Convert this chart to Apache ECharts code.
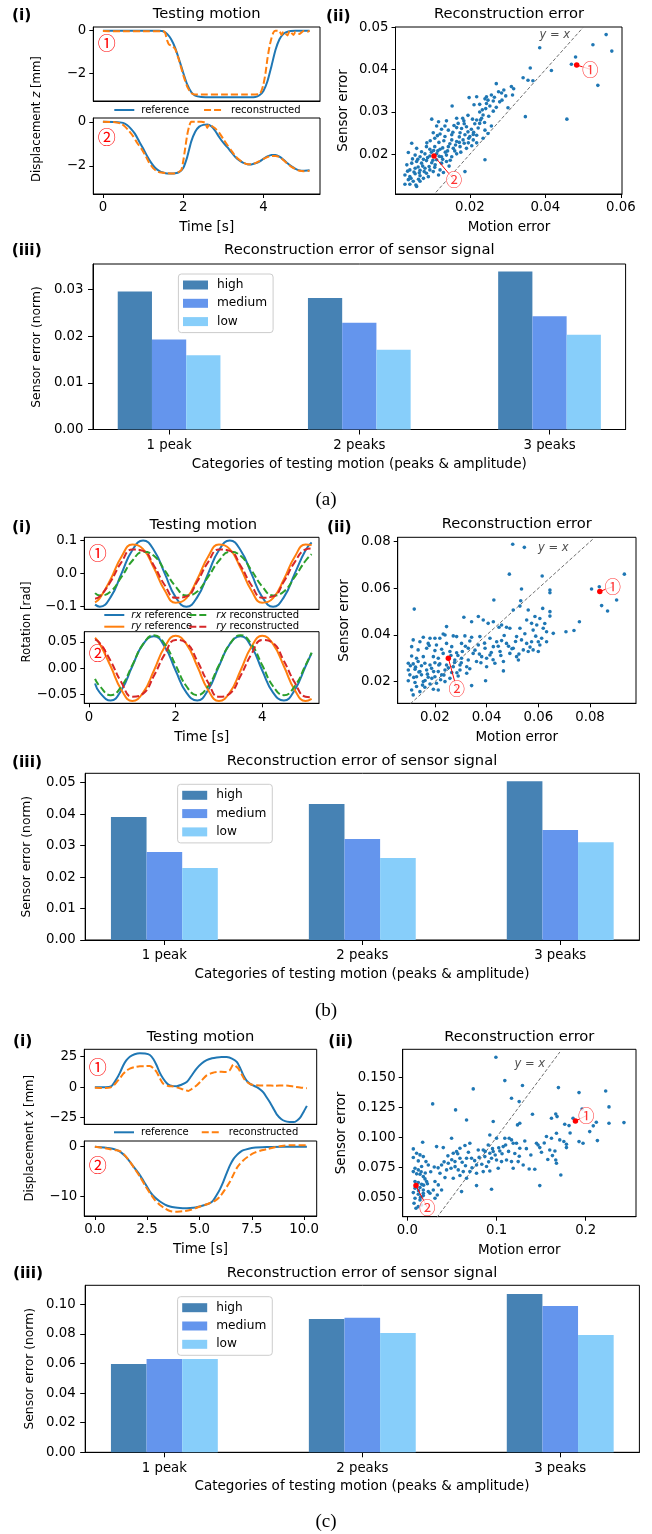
<!DOCTYPE html>
<html><head><meta charset="utf-8">
<script src="https://cdn.jsdelivr.net/npm/echarts@6/dist/echarts.min.js"></script>
<style>html,body{margin:0;padding:0;background:#fff}#c{width:652px;height:1534px}</style>
</head><body><div id="c"></div>
<script>
// ================= DATA =================
const barCategories = ['1 peak', '2 peaks', '3 peaks'];
const barLevels = ['high', 'medium', 'low'];
// (a) bar values
const aBarHigh = [0.0296, 0.0282, 0.0339];
const aBarMedium = [0.0193, 0.0229, 0.0243];
const aBarLow = [0.0159, 0.0171, 0.0203];
// (b) bar values
const bBarHigh = [0.0391, 0.0432, 0.0505];
const bBarMedium = [0.0280, 0.0321, 0.0350];
const bBarLow = [0.0229, 0.0261, 0.0311];
// (c) bar values
const cBarHigh = [0.0597, 0.0901, 0.1069];
const cBarMedium = [0.0631, 0.0908, 0.0989];
const cBarLow = [0.0631, 0.0806, 0.0793];

// tick values
const aLineXTicks = [0, 2, 4], aLineYTicks = [-2, 0];
const aScatXTicks = [0.02, 0.04, 0.06], aScatYTicks = [0.02, 0.03, 0.04, 0.05];
const aBarYTicks = [0, 0.01, 0.02, 0.03];
const bLineXTicks = [0, 2, 4], bTopYTicks = [-0.1, 0, 0.1], bBotYTicks = [-0.05, 0, 0.05];
const bScatXTicks = [0.02, 0.04, 0.06, 0.08], bScatYTicks = [0.02, 0.04, 0.06, 0.08];
const bBarYTicks = [0, 0.01, 0.02, 0.03, 0.04, 0.05];
const cLineXTicks = [0, 2.5, 5, 7.5, 10], cTopYTicks = [-25, 0, 25], cBotYTicks = [-10, 0];
const cScatXTicks = [0, 0.1, 0.2], cScatYTicks = [0.05, 0.075, 0.1, 0.125, 0.15];
const cBarYTicks = [0, 0.02, 0.04, 0.06, 0.08, 0.10];
const barXTicks = [0, 1, 2];

// (a)(i) displacement z, motion 1 and 2  [time s, mm]
const aTopRef = [[0,0],[0.5,0],[1.0,0],[1.4,-0.01],[1.5,-0.03],[1.6,-0.15],[1.7,-0.4],[1.8,-0.8],[1.9,-1.35],[2.0,-1.95],[2.1,-2.5],[2.2,-2.85],[2.3,-3.02],[2.45,-3.08],[2.7,-3.1],[3.0,-3.1],[3.5,-3.1],[3.8,-3.08],[3.9,-3.0],[4.0,-2.8],[4.1,-2.35],[4.2,-1.65],[4.3,-0.9],[4.4,-0.4],[4.5,-0.15],[4.6,-0.05],[4.8,-0.01],[5.15,0]];
const aTopRec = [[0,-0.02],[0.5,-0.03],[1.0,-0.03],[1.5,-0.03],[1.55,-0.1],[1.6,-0.45],[1.65,-0.65],[1.72,-0.7],[1.8,-0.85],[1.9,-1.4],[2.0,-2.05],[2.1,-2.6],[2.2,-2.9],[2.3,-2.97],[2.6,-2.97],[3.0,-2.97],[3.5,-2.97],[3.9,-2.95],[3.95,-2.8],[4.0,-2.5],[4.05,-2.0],[4.1,-1.3],[4.15,-0.75],[4.2,-0.35],[4.25,-0.08],[4.3,0],[4.4,-0.02],[4.45,-0.2],[4.5,-0.05],[4.6,-0.22],[4.65,-0.02],[4.75,-0.2],[4.8,-0.05],[4.9,-0.15],[5.0,-0.02],[5.1,-0.05],[5.15,0]];
const aBotRef = [[0,0],[0.3,-0.01],[0.5,-0.05],[0.6,-0.15],[0.7,-0.32],[0.8,-0.55],[0.9,-0.88],[1.0,-1.2],[1.1,-1.55],[1.2,-1.85],[1.3,-2.08],[1.4,-2.22],[1.5,-2.3],[1.6,-2.34],[1.7,-2.34],[1.8,-2.33],[1.9,-2.28],[2.0,-2.1],[2.1,-1.6],[2.2,-0.9],[2.3,-0.45],[2.4,-0.22],[2.5,-0.14],[2.6,-0.12],[2.7,-0.2],[2.8,-0.42],[2.9,-0.7],[3.0,-0.95],[3.1,-1.15],[3.2,-1.38],[3.3,-1.6],[3.4,-1.75],[3.5,-1.86],[3.6,-1.92],[3.7,-1.93],[3.8,-1.88],[3.9,-1.8],[4.0,-1.68],[4.1,-1.57],[4.2,-1.5],[4.3,-1.5],[4.4,-1.58],[4.5,-1.72],[4.6,-1.88],[4.7,-2.02],[4.8,-2.13],[4.9,-2.2],[5.0,-2.22],[5.15,-2.2]];
const aBotRec = [[0,0],[0.3,-0.02],[0.45,-0.08],[0.55,-0.22],[0.65,-0.42],[0.75,-0.65],[0.85,-0.95],[0.95,-1.2],[1.05,-1.5],[1.15,-1.85],[1.25,-2.1],[1.35,-2.25],[1.45,-2.3],[1.6,-2.33],[1.75,-2.34],[1.85,-2.3],[1.95,-2.2],[2.0,-1.8],[2.05,-1.2],[2.1,-0.6],[2.15,-0.2],[2.2,0],[2.3,0],[2.45,0],[2.55,-0.05],[2.6,-0.28],[2.65,-0.12],[2.72,-0.2],[2.8,-0.3],[2.9,-0.5],[3.0,-0.78],[3.1,-1.05],[3.2,-1.3],[3.3,-1.55],[3.4,-1.72],[3.5,-1.85],[3.6,-1.92],[3.7,-1.92],[3.8,-1.87],[3.9,-1.78],[4.0,-1.68],[4.1,-1.6],[4.2,-1.55],[4.3,-1.55],[4.4,-1.6],[4.5,-1.74],[4.6,-1.9],[4.7,-2.04],[4.8,-2.15],[4.9,-2.22],[5.0,-2.24],[5.15,-2.22]];

// (b)(i) rotation [rad]
const bTime = [0.14,0.25,0.5,0.75,1.0,1.25,1.5,1.75,2.0,2.25,2.5,2.75,3.0,3.25,3.5,3.75,4.0,4.25,4.5,4.75,5.0,5.14];
const bTopRxRef = [-0.094,-0.1,-0.071,0,0.071,0.1,0.071,0,-0.071,-0.1,-0.071,0,0.071,0.1,0.071,0,-0.071,-0.1,-0.071,0,0.071,0.094];
const bTopRyRef = [-0.087,-0.074,-0.017,0.051,0.088,0.074,0.017,-0.051,-0.088,-0.074,-0.017,0.051,0.088,0.074,0.017,-0.051,-0.088,-0.074,-0.017,0.051,0.088,0.087];
const bTopRxRec = [-0.059,-0.066,-0.054,-0.010,0.039,0.066,0.054,0.010,-0.039,-0.066,-0.054,-0.010,0.039,0.066,0.054,0.010,-0.039,-0.066,-0.054,-0.010,0.039,0.059];
const bTopRyRec = [-0.076,-0.069,-0.024,0.035,0.073,0.069,0.024,-0.035,-0.073,-0.069,-0.024,0.035,0.073,0.069,0.024,-0.035,-0.073,-0.069,-0.024,0.035,0.073,0.076];
const bBotRxRef = [-0.029,-0.046,-0.061,-0.041,0.004,0.046,0.061,0.041,-0.004,-0.046,-0.061,-0.041,0.004,0.046,0.061,0.041,-0.004,-0.046,-0.061,-0.041,0.004,0.029];
const bBotRxRec = [-0.020,-0.034,-0.051,-0.034,0.006,0.046,0.063,0.046,0.006,-0.034,-0.051,-0.034,0.006,0.046,0.063,0.046,0.006,-0.034,-0.051,-0.034,0.006,0.030];
const bBotRyRef = [0.058,0.046,0.004,-0.041,-0.062,-0.046,-0.004,0.041,0.062,0.046,0.004,-0.041,-0.062,-0.046,-0.004,0.041,0.062,0.046,0.004,-0.041,-0.062,-0.058];
const bBotRyRec = [0.055,0.048,0.014,-0.027,-0.054,-0.048,-0.014,0.027,0.054,0.048,0.014,-0.027,-0.054,-0.048,-0.014,0.027,0.054,0.048,0.014,-0.027,-0.054,-0.055];

// (c)(i) displacement x [mm]
const cTopRef = [[0,0],[0.5,0],[0.8,1],[1.04,6.9],[1.2,12],[1.36,18],[1.5,22],[1.67,25],[1.9,27],[2.15,27.8],[2.4,27.6],[2.63,26.4],[2.8,23],[2.95,18],[3.1,12],[3.27,6.9],[3.45,3],[3.59,1.4],[3.75,0.9],[3.91,0.8],[4.1,1.8],[4.39,4.2],[4.6,9],[4.86,15.3],[5.1,19.5],[5.34,22.2],[5.6,23.7],[5.82,24.4],[6.05,24.8],[6.3,24.7],[6.55,23.5],[6.78,20.8],[6.95,15.5],[7.1,9.7],[7.25,5.5],[7.42,2.8],[7.6,1.2],[7.74,0],[7.9,-1.8],[8.05,-4.2],[8.2,-8],[8.37,-12.5],[8.55,-18],[8.69,-22.2],[8.9,-26],[9.09,-27.8],[9.3,-28.5],[9.49,-28.6],[9.65,-27.5],[9.81,-25],[9.95,-21],[10.13,-15.3]];
const cTopRec = [[0,-0.5],[0.5,-0.6],[0.72,-0.3],[0.9,1.5],[1.04,4.2],[1.2,7.5],[1.36,11.1],[1.5,13.5],[1.67,15.3],[1.9,16.5],[2.15,17.2],[2.4,17.3],[2.63,17.5],[2.8,15.5],[2.95,12.5],[3.1,7.5],[3.27,2.8],[3.5,1],[3.75,0.6],[3.95,-0.3],[4.15,-1.4],[4.3,-2.3],[4.47,-3],[4.65,-1.2],[4.86,1.4],[5.1,5.5],[5.34,9.7],[5.6,11.7],[5.82,12.5],[6.05,12.6],[6.3,12.5],[6.45,14],[6.62,18.6],[6.75,17],[6.86,15.3],[7.0,11],[7.18,5.6],[7.4,2.8],[7.58,1.9],[7.9,1.5],[8.21,1.4],[8.6,1.3],[9.01,1.4],[9.25,1.2],[9.49,0.6],[9.8,-0.2],[10.13,-0.8]];
const cBotRef = [[0,0],[0.72,-0.3],[1.0,-0.6],[1.2,-1],[1.45,-1.9],[1.67,-3],[1.9,-4.3],[2.15,-5.7],[2.4,-7.4],[2.63,-9],[2.85,-10.1],[3.11,-11],[3.35,-11.6],[3.59,-12],[3.85,-12.2],[4.07,-12.3],[4.3,-12.35],[4.55,-12.3],[4.8,-12.2],[5.02,-12],[5.25,-11.7],[5.5,-11.3],[5.65,-10.8],[5.82,-9.7],[5.98,-8.5],[6.14,-7],[6.3,-5.3],[6.46,-3.7],[6.62,-2.5],[6.78,-1.7],[6.94,-1.1],[7.1,-0.7],[7.35,-0.4],[7.58,-0.2],[8.21,-0.07],[9.01,0],[10.13,0]];
const cBotRec = [[0,0],[0.5,-0.3],[0.72,-0.5],[1.0,-0.7],[1.2,-0.9],[1.45,-1.8],[1.67,-3],[1.9,-4.4],[2.15,-6],[2.4,-7.8],[2.63,-9.3],[2.85,-10.6],[3.11,-11.7],[3.35,-12.4],[3.59,-12.9],[3.85,-13.05],[4.07,-13],[4.3,-12.9],[4.55,-12.7],[4.8,-12.35],[5.02,-12],[5.25,-11.7],[5.5,-11.3],[5.75,-10.8],[5.98,-10],[6.2,-8.7],[6.46,-7],[6.62,-5.6],[6.78,-4.3],[6.94,-3.4],[7.1,-2.7],[7.35,-1.9],[7.58,-1.3],[7.9,-0.8],[8.21,-0.5],[8.6,-0.1],[9.01,0.2],[9.5,0.3],[10.13,0.3]];

// (ii) scatter: [motion error, sensor error]
const aScatter = [[0.0561,0.0483],[0.0576,0.0444],[0.0526,0.0459],[0.048,0.043],[0.0469,0.0413],[0.0539,0.0363],[0.0457,0.0283],[0.0385,0.0452],[0.0416,0.0398],[0.036,0.0404],[0.0341,0.0381],[0.0354,0.0375],[0.0367,0.0374],[0.0347,0.0289],[0.031,0.036],[0.0316,0.0355],[0.0313,0.034],[0.027,0.0367],[0.0276,0.0348],[0.0284,0.0345],[0.0257,0.034],[0.0244,0.0336],[0.0218,0.0336],[0.0198,0.0334],[0.024,0.0331],[0.0248,0.0328],[0.0262,0.0326],[0.0279,0.0324],[0.0244,0.032],[0.0253,0.0314],[0.027,0.0311],[0.0301,0.031],[0.0242,0.0308],[0.0226,0.03],[0.0235,0.0293],[0.0231,0.0285],[0.0218,0.0281],[0.0213,0.0272],[0.0226,0.0273],[0.0257,0.0267],[0.024,0.0257],[0.0248,0.0249],[0.0235,0.0238],[0.024,0.0187],[0.0187,0.0159],[0.0153,0.0314],[0.0099,0.0283],[0.0117,0.0277],[0.0138,0.0279],[0.0165,0.0285],[0.0181,0.0285],[0.0184,0.0279],[0.0169,0.0273],[0.0112,0.0267],[0.0125,0.0259],[0.0143,0.0257],[0.0165,0.0263],[0.0178,0.0261],[0.0191,0.0265],[0.0204,0.0259],[0.0103,0.0251],[0.0121,0.0248],[0.0134,0.0242],[0.0152,0.0246],[0.0174,0.0251],[0.0187,0.0246],[0.02,0.0242],[0.0209,0.0247],[0.0107,0.0238],[0.0152,0.0234],[0.0165,0.023],[0.0182,0.0234],[0.0196,0.0227],[0.0209,0.0234],[0.0218,0.0227],[0.0046,0.0226],[0.0059,0.0214],[0.0085,0.0218],[0.0094,0.0212],[0.0107,0.0218],[0.0121,0.0212],[0.0143,0.0218],[0.0156,0.0214],[0.0174,0.0218],[0.0191,0.0214],[0.0037,0.0204],[0.0055,0.0198],[0.0068,0.0194],[0.0081,0.0201],[0.0094,0.0196],[0.0112,0.0201],[0.0125,0.0194],[0.0138,0.0198],[0.0152,0.0194],[0.0165,0.0201],[0.0033,0.0175],[0.0046,0.0179],[0.0059,0.0183],[0.0072,0.0179],[0.0085,0.0185],[0.0099,0.018],[0.0112,0.0187],[0.0125,0.0179],[0.0138,0.0183],[0.0041,0.0163],[0.0055,0.0167],[0.0068,0.0162],[0.0081,0.0167],[0.0094,0.0163],[0.0107,0.0169],[0.0121,0.0163],[0.0028,0.0151],[0.0041,0.0147],[0.0055,0.0154],[0.0068,0.0149],[0.0085,0.0155],[0.0103,0.0159],[0.0037,0.014],[0.005,0.0136],[0.0064,0.0141],[0.0077,0.0143],[0.0028,0.0129],[0.0041,0.0129],[0.0057,0.0127],[0.0068,0.0136],[0.013,0.0157],[0.0117,0.0151],[0.009,0.0147],[0.0059,0.0124],[0.0128,0.0215],[0.0135,0.0205],[0.0147,0.0225],[0.016,0.0208],[0.0118,0.0228],[0.0098,0.0205],[0.0077,0.0188],[0.0063,0.017],[0.0108,0.0175],[0.0145,0.0172],[0.0172,0.0241],[0.0195,0.0253],[0.0222,0.0262],[0.0207,0.0283],[0.0233,0.0305],[0.0265,0.0335],[0.029,0.0352],[0.0226,0.0318],[0.0205,0.022],[0.0158,0.0268],[0.0062,0.0188],[0.0075,0.0172],[0.0088,0.0192],[0.0102,0.0186],[0.0115,0.0208],[0.0128,0.0188],[0.0141,0.0208],[0.0148,0.0186],[0.0162,0.0222],[0.0176,0.0205],[0.0185,0.0226],[0.0197,0.0238],[0.021,0.0252],[0.0218,0.0245],[0.0228,0.0281],[0.0239,0.0275],[0.025,0.029],[0.0262,0.0302],[0.0285,0.0328],[0.0295,0.0338],[0.0052,0.0158],[0.0066,0.0156],[0.0079,0.0159],[0.0092,0.0171],[0.0048,0.0189],[0.0035,0.016],[0.0072,0.0206],[0.0086,0.0227],[0.0114,0.0244],[0.0131,0.0232],[0.0155,0.0252],[0.0172,0.0228],[0.0119,0.0195],[0.0104,0.0209],[0.0044,0.0143],[0.0095,0.0232],[0.0134,0.0267],[0.0185,0.0272],[0.0195,0.0292],[0.0211,0.0317]];
const bScatter = [[0.0501,0.0789],[0.0546,0.0776],[0.0488,0.0661],[0.0615,0.0653],[0.0933,0.0661],[0.0903,0.055],[0.0868,0.0503],[0.0845,0.0526],[0.0806,0.0597],[0.0836,0.0607],[0.0535,0.0597],[0.0645,0.0593],[0.0645,0.0581],[0.0428,0.055],[0.0532,0.0547],[0.0503,0.0507],[0.0529,0.0524],[0.012,0.0511],[0.0617,0.0514],[0.0645,0.05],[0.0645,0.0481],[0.0561,0.0507],[0.0587,0.0479],[0.0606,0.0471],[0.0312,0.0476],[0.0368,0.0479],[0.0387,0.0464],[0.0342,0.0457],[0.0426,0.0457],[0.0406,0.045],[0.0458,0.0443],[0.0245,0.0436],[0.0448,0.0433],[0.0477,0.0433],[0.049,0.0429],[0.0555,0.0464],[0.0574,0.045],[0.0594,0.0443],[0.0529,0.0429],[0.058,0.0421],[0.0619,0.0429],[0.0632,0.0414],[0.0658,0.0407],[0.0707,0.0414],[0.0738,0.0419],[0.0759,0.0457],[0.0155,0.039],[0.0181,0.0386],[0.02,0.0386],[0.0219,0.0386],[0.0232,0.0404],[0.0239,0.04],[0.0271,0.0396],[0.0284,0.0393],[0.0316,0.0396],[0.0342,0.039],[0.0374,0.0393],[0.0413,0.0386],[0.0439,0.0371],[0.0458,0.0376],[0.0477,0.0364],[0.0516,0.0393],[0.0535,0.0379],[0.0555,0.0364],[0.0574,0.0371],[0.06,0.0371],[0.0613,0.0386],[0.0116,0.0379],[0.0142,0.0371],[0.0174,0.0364],[0.0206,0.0357],[0.0245,0.0364],[0.0265,0.035],[0.0303,0.0364],[0.0329,0.0343],[0.0368,0.0357],[0.0394,0.0343],[0.0426,0.035],[0.0503,0.0343],[0.0542,0.0336],[0.058,0.0336],[0.0606,0.0357],[0.0632,0.0371],[0.0561,0.0329],[0.011,0.035],[0.0135,0.0336],[0.0168,0.0343],[0.02,0.0333],[0.0226,0.0339],[0.0258,0.0329],[0.0284,0.0324],[0.0306,0.0329],[0.0348,0.0321],[0.0381,0.0307],[0.0413,0.0314],[0.0452,0.0329],[0.049,0.0321],[0.0516,0.0307],[0.06,0.0329],[0.011,0.031],[0.0129,0.03],[0.0155,0.0307],[0.0194,0.0307],[0.0213,0.03],[0.0232,0.0321],[0.0277,0.0293],[0.0303,0.03],[0.0329,0.0293],[0.0361,0.0286],[0.04,0.03],[0.0432,0.0279],[0.0465,0.0286],[0.0523,0.0293],[0.0097,0.0279],[0.0116,0.0276],[0.0135,0.0286],[0.0161,0.0279],[0.0181,0.0271],[0.02,0.0281],[0.0219,0.0276],[0.0245,0.0271],[0.0271,0.0264],[0.0297,0.0271],[0.0323,0.0264],[0.04,0.0264],[0.0465,0.0246],[0.0097,0.025],[0.0123,0.0253],[0.0142,0.0243],[0.0168,0.025],[0.0187,0.0257],[0.0213,0.0243],[0.0239,0.025],[0.0265,0.0239],[0.0297,0.025],[0.0323,0.0236],[0.0103,0.0229],[0.0129,0.0221],[0.0148,0.0229],[0.0174,0.0219],[0.02,0.0221],[0.0226,0.0229],[0.0258,0.0214],[0.029,0.0224],[0.0097,0.0204],[0.0123,0.0196],[0.0155,0.02],[0.0181,0.019],[0.0206,0.0193],[0.0239,0.02],[0.0342,0.0183],[0.0396,0.0204],[0.011,0.0164],[0.0129,0.0179],[0.0161,0.0176],[0.0194,0.0167],[0.0213,0.0164],[0.0116,0.0143],[0.0142,0.0157],[0.0125,0.0262],[0.0148,0.0268],[0.0171,0.0232],[0.0188,0.0214],[0.0222,0.0208],[0.0252,0.0259],[0.0276,0.0282],[0.0289,0.0312],[0.0318,0.0352],[0.0335,0.0374],[0.0355,0.0335],[0.0372,0.0318],[0.0392,0.0365],[0.0418,0.0325],[0.0445,0.0352],[0.0468,0.0398],[0.0485,0.0352],[0.0512,0.0372],[0.0548,0.0405],[0.0568,0.0348],[0.0105,0.0268],[0.0138,0.0241],[0.0162,0.0205],[0.0195,0.0243],[0.0215,0.0271],[0.0235,0.0228],[0.0262,0.0312],[0.0285,0.0238],[0.0302,0.0281],[0.0335,0.0255],[0.0378,0.0281],[0.0425,0.0294],[0.0455,0.0312],[0.0498,0.0341],[0.0525,0.0318],[0.059,0.0395],[0.0625,0.0449],[0.0118,0.0218],[0.0152,0.0185],[0.0178,0.0355]];
const cScatter = [[0.0993,0.1667],[0.1093,0.1472],[0.0739,0.1403],[0.1291,0.1431],[0.1694,0.1414],[0.0284,0.1278],[0.1168,0.1325],[0.1254,0.1297],[0.1925,0.1372],[0.2224,0.1386],[0.2261,0.1253],[0.0541,0.1228],[0.1959,0.1236],[0.1858,0.1158],[0.1664,0.1194],[0.1679,0.1172],[0.1616,0.1158],[0.1403,0.1192],[0.0664,0.1144],[0.0963,0.1131],[0.1235,0.1103],[0.1261,0.1117],[0.1765,0.1108],[0.1813,0.1097],[0.2119,0.1125],[0.2261,0.1117],[0.2429,0.1122],[0.2045,0.1047],[0.1672,0.1033],[0.1709,0.0978],[0.1616,0.0992],[0.156,0.1006],[0.2131,0.0972],[0.1925,0.0964],[0.197,0.095],[0.1784,0.0942],[0.1784,0.0914],[0.0496,0.0992],[0.0172,0.0958],[0.0925,0.1019],[0.1,0.0992],[0.1093,0.0992],[0.1142,0.0992],[0.1168,0.0978],[0.1317,0.0969],[0.1448,0.095],[0.1466,0.0936],[0.1485,0.0914],[0.1504,0.0875],[0.1597,0.0894],[0.1627,0.0847],[0.1664,0.0811],[0.1672,0.0783],[0.1721,0.0686],[0.1366,0.0736],[0.1429,0.0733],[0.1485,0.0597],[0.1187,0.095],[0.1224,0.095],[0.1261,0.0908],[0.1075,0.0922],[0.1037,0.0886],[0.0963,0.0881],[0.0925,0.0867],[0.0907,0.0936],[0.0851,0.0894],[0.0795,0.0894],[0.0701,0.095],[0.0646,0.0931],[0.059,0.0908],[0.0552,0.0881],[0.0515,0.0867],[0.0328,0.0922],[0.0403,0.0914],[0.0869,0.0839],[0.0944,0.0825],[0.1,0.0811],[0.1056,0.0797],[0.1112,0.0811],[0.1168,0.0797],[0.1243,0.0797],[0.1299,0.0769],[0.1187,0.0742],[0.1019,0.0742],[0.0888,0.0756],[0.0776,0.0769],[0.072,0.0825],[0.0664,0.0825],[0.059,0.0825],[0.0534,0.0797],[0.0459,0.0783],[0.0384,0.0769],[0.044,0.0728],[0.049,0.0742],[0.0571,0.0728],[0.0627,0.0714],[0.0701,0.0714],[0.0776,0.07],[0.0851,0.0714],[0.0925,0.0719],[0.0366,0.07],[0.0422,0.0664],[0.0515,0.0658],[0.059,0.0681],[0.0664,0.0658],[0.0776,0.0597],[0.0608,0.0547],[0.0944,0.0567],[0.031,0.0631],[0.0347,0.0603],[0.0384,0.0561],[0.0291,0.0561],[0.0336,0.0519],[0.0254,0.0533],[0.031,0.0492],[0.0067,0.0903],[0.0104,0.0867],[0.0142,0.0853],[0.0179,0.0839],[0.0067,0.0831],[0.0123,0.0803],[0.0209,0.0797],[0.0235,0.0769],[0.0086,0.0742],[0.0123,0.0728],[0.016,0.0756],[0.0067,0.0714],[0.0142,0.0692],[0.0179,0.0672],[0.0198,0.0653],[0.0086,0.0631],[0.0123,0.0622],[0.016,0.0608],[0.0216,0.0631],[0.0086,0.0575],[0.0142,0.0581],[0.0179,0.0561],[0.0067,0.0539],[0.0123,0.0525],[0.0179,0.0514],[0.0086,0.0492],[0.0142,0.0478],[0.0075,0.045],[0.0123,0.0422],[0.0097,0.0408],[0.016,0.0436],[0.0179,0.0533],[0.0235,0.0547],[0.0104,0.0695],[0.0155,0.0712],[0.0182,0.0601],[0.0125,0.0555],[0.0148,0.0501],[0.0201,0.0702],[0.0225,0.0612],[0.0262,0.0712],[0.0302,0.0752],[0.0345,0.0745],[0.0412,0.0795],[0.0455,0.0845],[0.0498,0.0812],[0.0535,0.0755],[0.0565,0.0862],[0.0615,0.0792],[0.0652,0.0762],[0.0685,0.0875],[0.0725,0.0745],[0.0755,0.0805],[0.0805,0.0832],[0.0835,0.0775],[0.0872,0.0882],[0.0912,0.0795],[0.0955,0.0905],[0.0985,0.0852],[0.1025,0.0912],[0.1062,0.0862],[0.1102,0.0935],[0.1135,0.0882],[0.1205,0.0865],[0.1255,0.0842],[0.1335,0.0905],[0.1385,0.0852],[0.1535,0.0952],[0.1575,0.0815],[0.1655,0.0885],[0.1755,0.0965],[0.1825,0.1035],[0.2085,0.1095]];

// highlighted samples and their annotation positions
const aMark1 = [0.0483, 0.0411], aMark1Label = [0.0519, 0.0401];
const aMark2 = [0.0105, 0.0196], aMark2Label = [0.0158, 0.0140];
const bMark1 = [0.0838, 0.0587], bMark1Label = [0.0888, 0.0607];
const bMark2 = [0.0252, 0.0300], bMark2Label = [0.0284, 0.0171];
const cMark1 = [0.1885, 0.1135], cMark1Label = [0.2007, 0.1180];
const cMark2 = [0.0097, 0.0597], cMark2Label = [0.0224, 0.0414];
const aDiag = [[0.011, 0.011], [0.05, 0.05]], aDiagLabel = [0.0425, 0.0481];
const bDiag = [[0.0105, 0.0105], [0.081, 0.081]], bDiagLabel = [0.0658, 0.0771];
const cDiag = [[0.033, 0.033], [0.171, 0.171]], cDiagLabel = [0.1373, 0.1608];

// ================= BUILD =================
const FONT = 'DejaVu Sans';
const CJK = 'Noto Sans CJK JP';
const C = {blue:'#1f77b4', orange:'#ff7f0e', green:'#2ca02c', red:'#d62728', high:'#4682b4', medium:'#6495ed', low:'#87cefa'};
const grids = [], xAxes = [], yAxes = [], series = [], legends = [], graphics = [];
const minus = s => String(s).replace('-', '\u2212');
const fx = d => v => minus(Number(v).toFixed(d));
const zip = (t, v) => t.map((x, i) => [x, v[i]]);

function addGrid(l, t, r, b) {
  grids.push({left: l, top: t, width: r - l, height: b - t, show: true, borderColor: '#000', borderWidth: 1, backgroundColor: 'transparent'});
  return grids.length - 1;
}
function axis(kind, gi, min, max, ticks, fmt, o = {}) {
  const has = ticks && ticks.length;
  const a = {type: 'value', gridIndex: gi, min, max,
    axisLine: {show: true, onZero: false, lineStyle: {color: '#000', width: 1}},
    axisTick: {show: !!has, length: o.tickLen || 4, lineStyle: {color: '#000', width: 1}, customValues: ticks || []},
    axisLabel: {show: !!has, customValues: ticks || [], formatter: fmt, color: '#000', fontSize: 13.3, fontFamily: FONT,
      margin: o.margin || (kind === 'x' ? 7.5 : 7)},
    splitLine: {show: false}, splitArea: {show: false}};
  const arr = kind === 'x' ? xAxes : yAxes;
  arr.push(a); return arr.length - 1;
}
function line(xi, yi, data, color, dashed, name, smooth) {
  series.push({type: 'line', name, xAxisIndex: xi, yAxisIndex: yi, data, symbol: 'none', showSymbol: false,
    smooth: smooth, lineStyle: {color, width: 2, type: dashed ? [7, 3] : 'solid'}, itemStyle: {color}, z: 3});
}
function scat(xi, yi, data, color, size, z) {
  series.push({type: 'scatter', xAxisIndex: xi, yAxisIndex: yi, data, symbolSize: size, itemStyle: {color, opacity: 1}, z: z || 2});
}
function annot(xi, yi, pos, text, o) {
  series.push({type: 'scatter', xAxisIndex: xi, yAxisIndex: yi, data: [pos], symbolSize: 1, silent: true,
    itemStyle: {color: 'rgba(0,0,0,0)'}, z: o.z || 6,
    label: {show: true, position: 'inside', formatter: text, color: o.color, fontSize: o.size, fontFamily: o.family || FONT,
      fontStyle: o.italic ? 'italic' : 'normal', backgroundColor: o.bg || 'transparent', borderRadius: 9, padding: 0}});
}
function bars(xi, yi, values, name, color, offset) {
  series.push({type: 'custom', name, xAxisIndex: xi, yAxisIndex: yi, data: values.map((v, i) => [i, v]),
    encode: {x: 0, y: 1}, itemStyle: {color}, z: 2,
    renderItem: (p, api) => {
      const c = api.value(0) + offset, v = api.value(1);
      const a = api.coord([c - 0.09, v]), b = api.coord([c + 0.09, 0]);
      return {type: 'rect', shape: {x: a[0], y: a[1], width: b[0] - a[0], height: b[1] - a[1]}, style: {fill: color}};
    }});
}
function txt(x, y, text, size, o = {}) {
  graphics.push({type: 'text', x, y, rotation: o.rot || 0, z: 100, silent: true,
    style: {text, fill: o.color || '#000', fontSize: size, fontFamily: o.family || FONT, fontWeight: o.weight || 'normal',
      fontStyle: o.italic ? 'italic' : 'normal', align: 'center', verticalAlign: 'middle',
      textAlign: 'center', textVerticalAlign: 'middle', rich: o.rich}});
}
const richI = s => ({i: {fontStyle: 'italic', fontSize: s, fontFamily: FONT, fill: '#000', color: '#000'}});
function lineLegend(left, top, names, o = {}) {
  legends.push({left, top, orient: o.orient || 'horizontal', data: names.map(n => ({name: n, itemStyle: {opacity: 0, borderWidth: 0}})),
    padding: 0, itemGap: o.gap, itemWidth: 20, itemHeight: 10,
    itemStyle: {opacity: 0, borderWidth: 0},
    selectedMode: false, textStyle: {fontSize: 10, fontFamily: FONT, color: '#000', padding: [0, 0, 0, 2], rich: richI(10)},
    formatter: o.fmt});
}
function barLegend(left, top) {
  legends.push({left, top, orient: 'vertical', data: barLevels, icon: 'rect', itemWidth: 25, itemHeight: 9, itemGap: 6.3,
    padding: [5, 6, 5, 4.6], borderColor: '#cccccc', borderWidth: 1, borderRadius: 3, backgroundColor: 'rgba(255,255,255,0.8)',
    selectedMode: false, textStyle: {fontSize: 12.2, fontFamily: FONT, color: '#000', padding: [0, 0, 0, 4]}});
}
function barPanel(l, t, r, b, ymax, yticks, high, med, low) {
  const g = addGrid(l, t, r, b);
  const xi = axis('x', g, -0.4, 2.4, barXTicks, v => barCategories[Math.round(v)], {tickLen: 5, margin: 9.5});
  const yi = axis('y', g, 0, ymax, yticks, fx(2), {tickLen: 5, margin: 9.5});
  bars(xi, yi, high, 'high', C.high, -0.18);
  bars(xi, yi, med, 'medium', C.medium, 0);
  bars(xi, yi, low, 'low', C.low, 0.18);
}
function scatterPanel(l, t, r, b, xr, yr, xt, yt, xfmt, yfmt, pts, m1, m1l, m2, m2l, diag, diagl) {
  const g = addGrid(l, t, r, b);
  const xi = axis('x', g, xr[0], xr[1], xt, xfmt);
  const yi = axis('y', g, yr[0], yr[1], yt, yfmt);
  series.push({type: 'line', xAxisIndex: xi, yAxisIndex: yi, data: diag, symbol: 'none', silent: true,
    lineStyle: {color: '#6e6e6e', width: 1, type: [3.5, 2]}, z: 1});
  scat(xi, yi, pts, C.blue, 3.6, 2);
  series.push({type: 'line', xAxisIndex: xi, yAxisIndex: yi, data: [m1, m1l], symbol: 'none', silent: true, lineStyle: {color: 'red', width: 1}, z: 4});
  series.push({type: 'line', xAxisIndex: xi, yAxisIndex: yi, data: [m2, m2l], symbol: 'none', silent: true, lineStyle: {color: 'red', width: 1}, z: 4});
  scat(xi, yi, [m1, m2], 'red', 5.5, 5);
  annot(xi, yi, m1l, '\u2460', {color: 'red', size: 16.5, bg: '#fff', family: CJK});
  annot(xi, yi, m2l, '\u2461', {color: 'red', size: 16.5, bg: '#fff', family: CJK});
  annot(xi, yi, diagl, 'y = x', {color: '#222', size: 11.5, italic: true});
}

// ---------- (a) ----------
{
  const gT = addGrid(93.3, 27, 320, 101), gB = addGrid(93.3, 118, 320, 194);
  const xT = axis('x', gT, -0.24, 5.41, null, null), yT = axis('y', gT, -3.27, 0.17, aLineYTicks, fx(0));
  const xB = axis('x', gB, -0.24, 5.41, aLineXTicks, fx(0)), yB = axis('y', gB, -3.27, 0.17, aLineYTicks, fx(0));
  line(xT, yT, aTopRef, C.blue, false, 'reference', 0.2);
  line(xT, yT, aTopRec, C.orange, true, 'reconstructed', 0.2);
  line(xB, yB, aBotRef, C.blue, false, 'reference', 0.2);
  line(xB, yB, aBotRec, C.orange, true, 'reconstructed', 0.2);
  lineLegend(113.3, 105, ['reference', 'reconstructed'], {gap: 14});
  scatterPanel(395.5, 27, 622, 194, [0.0003, 0.0603], [0.0106, 0.0501], aScatXTicks, aScatYTicks, fx(2), fx(2),
    aScatter, aMark1, aMark1Label, aMark2, aMark2Label, aDiag, aDiagLabel);
  barPanel(93, 264, 625.6, 429.5, 0.0355, aBarYTicks, aBarHigh, aBarMedium, aBarLow);
  barLegend(178.4, 274);
  txt(21.7, 16, '(i)', 15.5, {weight: 'bold'});
  txt(206.7, 14.5, 'Testing motion', 14.7);
  txt(338.3, 17, '(ii)', 15.5, {weight: 'bold'});
  txt(509, 14.5, 'Reconstruction error', 14.7);
  txt(106.7, 43.3, '\u2460', 18, {color: 'red', family: CJK});
  txt(106.7, 136.7, '\u2461', 18, {color: 'red', family: CJK});
  txt(36.7, 119, 'Displacement {i|z} [mm]', 11.7, {rot: Math.PI / 2, rich: richI(11.7)});
  txt(206.7, 227.5, 'Time [s]', 13.5);
  txt(343.3, 110.5, 'Sensor error', 13.4, {rot: Math.PI / 2});
  txt(509, 227.5, 'Motion error', 13.5);
  txt(26.7, 251, '(iii)', 15.5, {weight: 'bold'});
  txt(359.3, 250, 'Reconstruction error of sensor signal', 14.7);
  txt(36.8, 347, 'Sensor error (norm)', 12.3, {rot: Math.PI / 2});
  txt(359.3, 464, 'Categories of testing motion (peaks & amplitude)', 13.5);
  txt(326, 500, '(a)', 19, {family: 'Liberation Serif'});
}
// ---------- (b) ----------
{
  const gT = addGrid(84.3, 537.3, 319, 609.3), gB = addGrid(84.3, 631.7, 319, 703.3);
  const xT = axis('x', gT, -0.108, 5.31, null, null), yT = axis('y', gT, -0.108, 0.110, bTopYTicks, fx(1));
  const xB = axis('x', gB, -0.108, 5.31, bLineXTicks, fx(0)), yB = axis('y', gB, -0.0664, 0.0696, bBotYTicks, fx(2));
  line(xT, yT, zip(bTime, bTopRxRef), C.blue, false, 'rx reference', 0.5);
  line(xT, yT, zip(bTime, bTopRyRef), C.orange, false, 'ry reference', 0.5);
  line(xT, yT, zip(bTime, bTopRxRec), C.green, true, 'rx reconstructed', 0.5);
  line(xT, yT, zip(bTime, bTopRyRec), C.red, true, 'ry reconstructed', 0.5);
  line(xB, yB, zip(bTime, bBotRxRef), C.blue, false, 'rx reference', 0.5);
  line(xB, yB, zip(bTime, bBotRyRef), C.orange, false, 'ry reference', 0.5);
  line(xB, yB, zip(bTime, bBotRxRec), C.green, true, 'rx reconstructed', 0.5);
  line(xB, yB, zip(bTime, bBotRyRec), C.red, true, 'ry reconstructed', 0.5);
  const rfmt = n => '{i|' + n.split(' ')[0] + '} ' + n.split(' ').slice(1).join(' ');
  lineLegend(103.3, 610, ['rx reference', 'ry reference'], {orient: 'vertical', gap: 1.7, fmt: rfmt});
  lineLegend(188.3, 610, ['rx reconstructed', 'ry reconstructed'], {orient: 'vertical', gap: 1.7, fmt: rfmt});
  scatterPanel(397.7, 537.3, 636, 703.3, [0.0056, 0.0978], [0.0107, 0.0819], bScatXTicks, bScatYTicks, fx(2), fx(2),
    bScatter, bMark1, bMark1Label, bMark2, bMark2Label, bDiag, bDiagLabel);
  barPanel(85.2, 773.3, 639.4, 940, 0.053, bBarYTicks, bBarHigh, bBarMedium, bBarLow);
  barLegend(177.6, 784.3);
  txt(21.7, 528.3, '(i)', 15.5, {weight: 'bold'});
  txt(203.3, 525, 'Testing motion', 14.7);
  txt(339.3, 528.3, '(ii)', 15.5, {weight: 'bold'});
  txt(516.7, 524.5, 'Reconstruction error', 14.7);
  txt(97.7, 553.3, '\u2460', 18, {color: 'red', family: CJK});
  txt(97.7, 653.3, '\u2461', 18, {color: 'red', family: CJK});
  txt(26.7, 622, 'Rotation [rad]', 11.7, {rot: Math.PI / 2});
  txt(201.7, 737, 'Time [s]', 13.5);
  txt(345, 620.5, 'Sensor error', 13.4, {rot: Math.PI / 2});
  txt(516.8, 737, 'Motion error', 13.5);
  txt(27, 763.3, '(iii)', 15.5, {weight: 'bold'});
  txt(362, 760.7, 'Reconstruction error of sensor signal', 14.7);
  txt(27.2, 856.7, 'Sensor error (norm)', 12.3, {rot: Math.PI / 2});
  txt(362, 974.3, 'Categories of testing motion (peaks & amplitude)', 13.5);
  txt(326, 1010.7, '(b)', 19, {family: 'Liberation Serif'});
}
// ---------- (c) ----------
{
  const gT = addGrid(84.3, 1049.3, 316.7, 1124.3), gB = addGrid(84.3, 1141, 316.7, 1216);
  const xT = axis('x', gT, -0.505, 10.6, null, null), yT = axis('y', gT, -30.4, 31.1, cTopYTicks, fx(0));
  const xB = axis('x', gB, -0.505, 10.6, cLineXTicks, fx(1)), yB = axis('y', gB, -13.9, 1.14, cBotYTicks, fx(0));
  line(xT, yT, cTopRef, C.blue, false, 'reference', 0.25);
  line(xT, yT, cTopRec, C.orange, true, 'reconstructed', 0.25);
  line(xB, yB, cBotRef, C.blue, false, 'reference', 0.25);
  line(xB, yB, cBotRec, C.orange, true, 'reconstructed', 0.25);
  lineLegend(113, 1127.3, ['reference', 'reconstructed'], {gap: 12});
  scatterPanel(402.7, 1049.3, 636, 1216.7, [-0.0052, 0.2564], [0.0338, 0.1733], cScatXTicks, cScatYTicks, fx(1), fx(3),
    cScatter, cMark1, cMark1Label, cMark2, cMark2Label, cDiag, cDiagLabel);
  barPanel(85.2, 1285.3, 639.4, 1452.3, 0.1128, cBarYTicks, cBarHigh, cBarMedium, cBarLow);
  barLegend(177.6, 1296.7);
  txt(22.7, 1041.7, '(i)', 15.5, {weight: 'bold'});
  txt(200.5, 1036.7, 'Testing motion', 14.7);
  txt(340.7, 1041.7, '(ii)', 15.5, {weight: 'bold'});
  txt(519.3, 1036.7, 'Reconstruction error', 14.7);
  txt(97.7, 1066.7, '\u2460', 18, {color: 'red', family: CJK});
  txt(97.7, 1165, '\u2461', 18, {color: 'red', family: CJK});
  txt(30, 1138.3, 'Displacement {i|x} [mm]', 11.7, {rot: Math.PI / 2, rich: richI(11.7)});
  txt(200.5, 1249.5, 'Time [s]', 13.5);
  txt(341.7, 1133, 'Sensor error', 13.4, {rot: Math.PI / 2});
  txt(519.3, 1250, 'Motion error', 13.5);
  txt(28, 1274, '(iii)', 15.5, {weight: 'bold'});
  txt(362, 1272.7, 'Reconstruction error of sensor signal', 14.7);
  txt(30, 1368.8, 'Sensor error (norm)', 12.3, {rot: Math.PI / 2});
  txt(362, 1486.7, 'Categories of testing motion (peaks & amplitude)', 13.5);
  txt(326, 1522, '(c)', 19, {family: 'Liberation Serif'});
}

const chart = echarts.init(document.getElementById('c'), null, {renderer: 'canvas', width: 652, height: 1534});
chart.setOption({
  backgroundColor: '#fff', animation: false,
  textStyle: {fontFamily: FONT},
  grid: grids, xAxis: xAxes, yAxis: yAxes, series, legend: legends, graphic: {elements: graphics},
  tooltip: {show: false}
});
</script></body></html>
